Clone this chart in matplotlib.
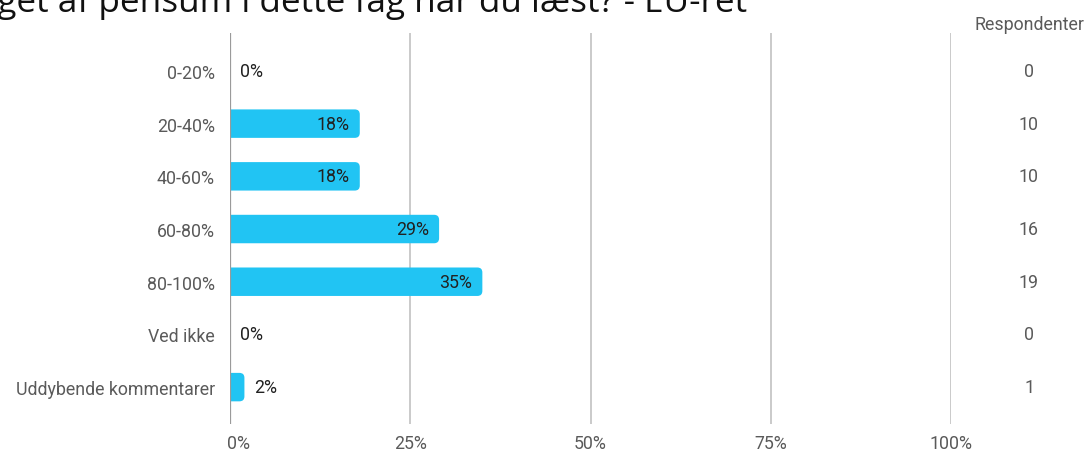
'''
Survey bar chart: how much of the syllabus was read
'''
import numpy as np
from matplotlib import pyplot as plt
from matplotlib.patches import PathPatch
from matplotlib.path import Path
from matplotlib.transforms import blended_transform_factory, ScaledTranslation

# data
categories = ['0-20%', '20-40%', '40-60%', '60-80%', '80-100%', 'Ved ikke', 'Uddybende kommentarer']
percent = [0, 18, 18, 29, 35, 0, 2]
pct_labels = ['0%', '18%', '18%', '29%', '35%', '0%', '2%']
respondents = [0, 10, 10, 16, 19, 0, 1]
xticks = [0, 25, 50, 75, 100]
xtick_labels = ['0%', '25%', '50%', '75%', '100%']
title = 'Hvor meget af pensum i dette fag har du læst? - EU-ret'

plt.rcParams['font.family'] = ['Roboto', 'DejaVu Sans']
fs = 12.8

W, H = 1087, 452
fig = plt.figure(figsize=(W / 100, H / 100), dpi=100)
ax = fig.add_axes([230 / W, 1 - 425 / H, (951 - 230) / W, (425 - 34) / H])

bar_color = '#21c4f3'
y = np.arange(len(categories))
bar_h = 0.54

ax.set_xlim(0, 100)
ax.set_ylim(len(categories) - 0.3, -0.72)

# px per data unit, for the rounded corners
px_x = (951 - 230) / 100
px_y = (425 - 34) / (len(categories) - 0.3 + 0.72)
rx = 5 / px_x
ry = 5 / px_y


def right_rounded_bar(v, yc):
    # bar from 0 to v, square on the left, rounded on the right
    y0, y1 = yc - bar_h / 2, yc + bar_h / 2
    verts = [(0, y0), (v - rx, y0), (v, y0), (v, y0 + ry), (v, y1 - ry),
             (v, y1), (v - rx, y1), (0, y1), (0, y0)]
    codes = [Path.MOVETO, Path.LINETO, Path.CURVE3, Path.CURVE3, Path.LINETO,
             Path.CURVE3, Path.CURVE3, Path.LINETO, Path.CLOSEPOLY]
    return PathPatch(Path(verts, codes), fc=bar_color, ec='none', zorder=3)


for yi, v, lab in zip(y, percent, pct_labels):
    if v > 0:
        ax.add_patch(right_rounded_bar(v, yi))
    if v >= 10:
        ax.text(v - 10 / px_x, yi, lab, ha='right', va='center', fontsize=fs, color='#222222', zorder=4)
    else:
        ax.text(v + 10 / px_x, yi, lab, ha='left', va='center', fontsize=fs, color='#222222', zorder=4)

# grid
for xt in xticks[1:]:
    ax.axvline(xt, color='#c6c6c6', lw=1.3, zorder=1)
ax.axvline(0, color='#9a9a9a', lw=1.6, zorder=5)

for s in ax.spines.values():
    s.set_visible(False)
ax.set_yticks(y)
ax.set_yticklabels(categories)
ax.set_xticks(xticks)
ax.set_xticklabels(xtick_labels)
ax.tick_params(axis='y', length=0, pad=11, labelsize=fs, labelcolor='#5a5a5a')
ax.tick_params(axis='x', length=0, pad=7, labelsize=fs, labelcolor='#5a5a5a')
# first x label sits a little right of the zero line
lbl0 = ax.get_xticklabels()[0]
lbl0.set_transform(lbl0.get_transform() + ScaledTranslation(8 / 100, 0, fig.dpi_scale_trans))

# respondent column
trans = blended_transform_factory(fig.transFigure, ax.transData)
for yi, n in zip(y, respondents):
    ax.text(1029 / W, yi, str(n), transform=trans, ha='center', va='center',
            fontsize=fs, color='#5a5a5a', clip_on=False)
fig.text(1029 / W, 1 - 25 / H, 'Respondenter', ha='center', va='center', fontsize=fs, color='#5a5a5a')

# title, cut off at the top like the screenshot
fig.text(747 / W, 1 - 12 / H, title, ha='right', va='baseline', fontsize=25.3,
         family=['Open Sans', 'DejaVu Sans'], color='#111111')

fig.savefig('out.png', dpi=100)
